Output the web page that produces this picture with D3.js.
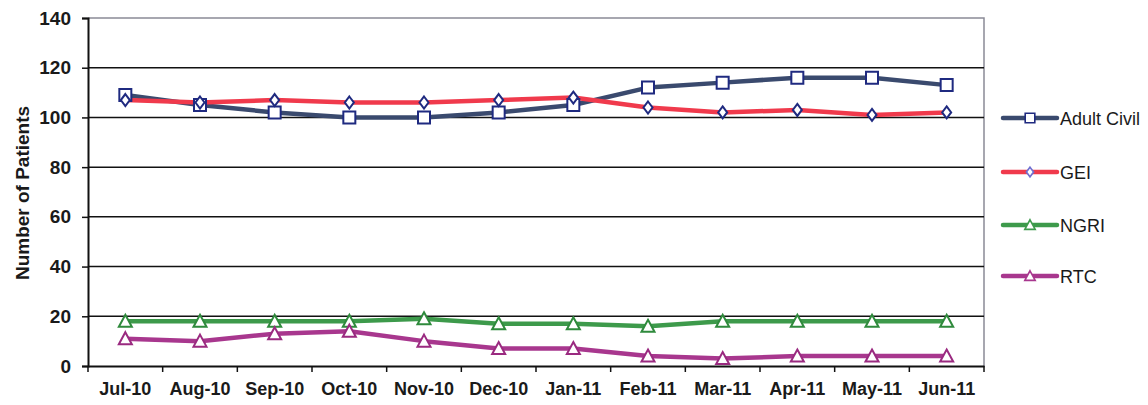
<!DOCTYPE html>
<html>
<head>
<meta charset="utf-8">
<script src="https://cdn.jsdelivr.net/npm/d3@7"></script>
<style>
  html, body { margin: 0; padding: 0; background: #fff; }
  svg { display: block; font-family: Arial, "Liberation Sans", sans-serif; }
</style>
</head>
<body>
<svg id="chart" width="1148" height="405"></svg>
<script>
// Monthly patient counts by category
const months = ["Jul-10", "Aug-10", "Sep-10", "Oct-10", "Nov-10", "Dec-10",
                "Jan-11", "Feb-11", "Mar-11", "Apr-11", "May-11", "Jun-11"];
const adultCivil = [109, 105, 102, 100, 100, 102, 105, 112, 114, 116, 116, 113];
const gei        = [107, 106, 107, 106, 106, 107, 108, 104, 102, 103, 101, 102];
const ngri       = [18, 18, 18, 18, 19, 17, 17, 16, 18, 18, 18, 18];
const rtc        = [11, 10, 13, 14, 10, 7, 7, 4, 3, 4, 4, 4];
const yTicks     = [0, 20, 40, 60, 80, 100, 120, 140];

const series = [
  { name: "Adult Civil", values: adultCivil, line: "#3a4a6e", mark: "square",   markStroke: "#1f2a80", legendStroke: "#1f2a80" },
  { name: "GEI",         values: gei,        line: "#f03a4c", mark: "diamond",  markStroke: "#1f2a80", legendStroke: "#6f6fd0" },
  { name: "NGRI",        values: ngri,       line: "#3d9a4b", mark: "triangle", markStroke: "#2f8a3c", legendStroke: "#3d9a4b" },
  { name: "RTC",         values: rtc,        line: "#a8378e", mark: "triangle", markStroke: "#9a2a80", legendStroke: "#a8378e" }
];

const svg = d3.select("#chart");
const m = { left: 88, right: 984, top: 18, bottom: 366 };

const x = d3.scaleBand().domain(months).range([m.left, m.right]);
const y = d3.scaleLinear().domain([0, 140]).range([m.bottom, m.top]);

// plot frame (light border at top and right)
svg.append("path")
  .attr("d", `M${m.left},${m.top}H${m.right}V${m.bottom}`)
  .attr("fill", "none").attr("stroke", "#8a8a96").attr("stroke-width", 1.5);

// horizontal gridlines
svg.append("g").selectAll("line")
  .data(yTicks.filter(t => t > 0 && t < 140))
  .join("line")
  .attr("x1", m.left).attr("x2", m.right)
  .attr("y1", d => y(d)).attr("y2", d => y(d))
  .attr("stroke", "#111").attr("stroke-width", 1.5);

// y axis
const yAxis = svg.append("g")
  .attr("transform", `translate(${m.left},0)`)
  .call(d3.axisLeft(y).tickValues(yTicks).tickSize(6).tickPadding(11));
yAxis.select(".domain").attr("stroke", "#111").attr("stroke-width", 2);
yAxis.selectAll(".tick line").attr("stroke", "#111").attr("stroke-width", 1.5);
yAxis.selectAll(".tick text")
  .attr("font-size", 19).attr("font-weight", "bold").attr("fill", "#1a1a1a")
  .attr("font-family", "Arial, 'Liberation Sans', sans-serif");

// x axis with ticks between categories
const xAxis = svg.append("g")
  .attr("transform", `translate(0,${m.bottom})`)
  .call(d3.axisBottom(x).tickSize(0).tickPadding(16));
xAxis.select(".domain").attr("stroke", "#111").attr("stroke-width", 2);
xAxis.selectAll(".tick text")
  .attr("font-size", 18).attr("font-weight", "bold").attr("fill", "#1a1a1a")
  .attr("font-family", "Arial, 'Liberation Sans', sans-serif");
xAxis.append("g").selectAll("line")
  .data(months.map(d => x(d)).concat([m.right]))
  .join("line")
  .attr("x1", d => d).attr("x2", d => d)
  .attr("y1", 0).attr("y2", 6)
  .attr("stroke", "#111").attr("stroke-width", 1.5);

// y axis title
svg.append("text")
  .attr("transform", "translate(29,193) rotate(-90)")
  .attr("text-anchor", "middle")
  .attr("font-size", 19).attr("font-weight", "bold").attr("fill", "#1a1a1a")
  .text("Number of Patients");

const cx = (i) => x(months[i]) + x.bandwidth() / 2;

function markerPath(type, k) {
  k = k || 1;
  if (type === "square") return `M${-6*k},${-6*k}H${6*k}V${6*k}H${-6*k}Z`;
  if (type === "diamond") return `M0,${-6*k}L${4.5*k},0L0,${6*k}L${-4.5*k},0Z`;
  return `M0,${-6.5*k}L${6.5*k},${5.5*k}H${-6.5*k}Z`;
}

const lineGen = d3.line().x((d, i) => cx(i)).y(d => y(d));

// series lines
series.forEach(s => {
  svg.append("path")
    .datum(s.values)
    .attr("d", lineGen)
    .attr("fill", "none")
    .attr("stroke", s.line)
    .attr("stroke-width", 4.5)
    .attr("stroke-linejoin", "round");
});

// series markers
series.forEach(s => {
  svg.append("g").selectAll("path")
    .data(s.values)
    .join("path")
    .attr("transform", (d, i) => `translate(${cx(i)},${y(d)})`)
    .attr("d", markerPath(s.mark))
    .attr("fill", "#fff")
    .attr("stroke", s.markStroke)
    .attr("stroke-width", 2);
});

// legend
const legendY = [118, 172, 225, 276];
const legend = svg.append("g");
series.forEach((s, i) => {
  const g = legend.append("g").attr("transform", `translate(1003,${legendY[i]})`);
  g.append("line").attr("x1", 0).attr("x2", 54).attr("y1", 0).attr("y2", 0)
    .attr("stroke", s.line).attr("stroke-width", 4.5).attr("stroke-linecap", "round");
  g.append("path").attr("transform", "translate(27,0)")
    .attr("d", markerPath(s.mark, 0.8))
    .attr("fill", "#fff").attr("stroke", s.legendStroke).attr("stroke-width", 1.6);
  g.append("text").attr("x", 57).attr("y", 6.5)
    .attr("font-size", 18).attr("fill", "#1a1a1a")
    .text(s.name);
});
</script>
</body>
</html>
